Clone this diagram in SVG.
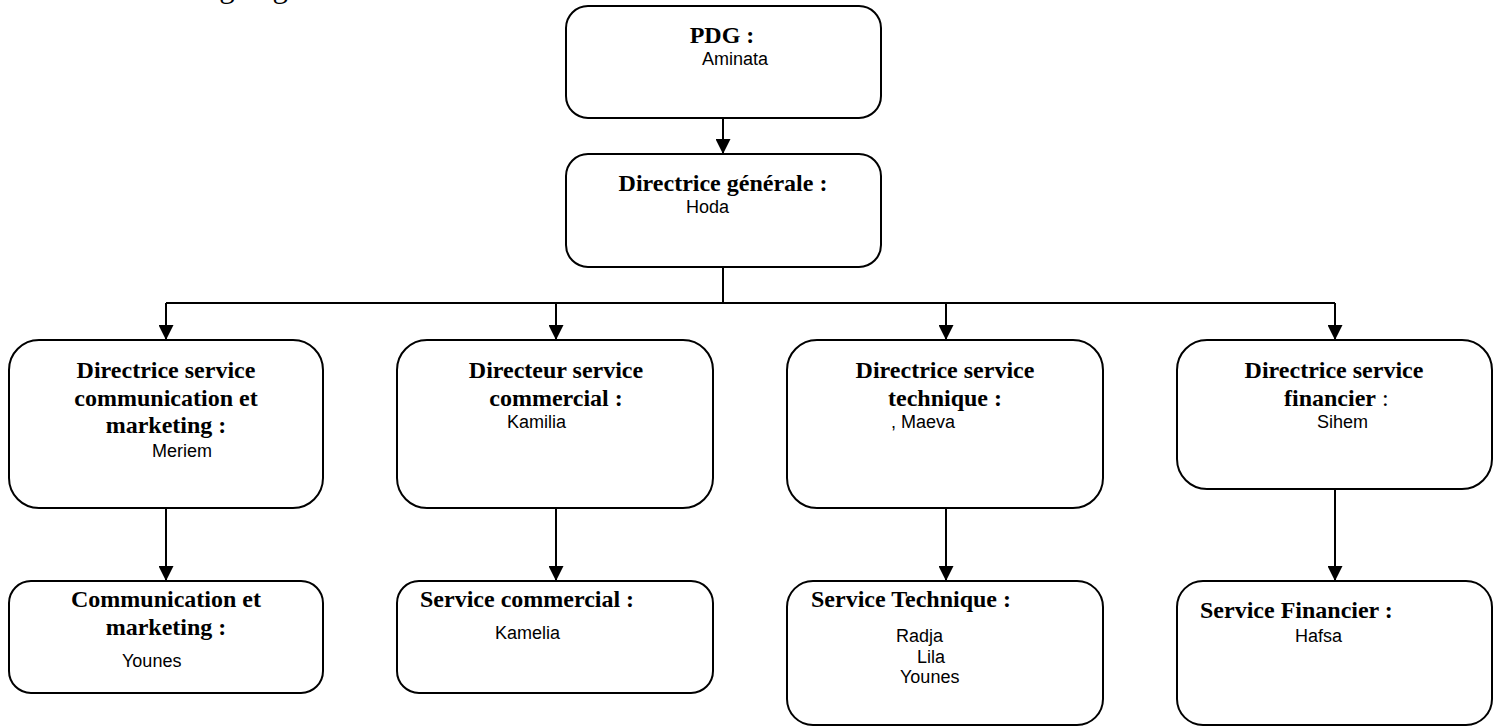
<svg xmlns="http://www.w3.org/2000/svg" width="1501" height="728" viewBox="0 0 1501 728">
<style>
.box{fill:#fff;stroke:#000;stroke-width:2}
.c{fill:none;stroke:#000;stroke-width:2}
.t{font-family:"Liberation Serif","Times New Roman",serif;font-weight:bold;font-size:24px;fill:#000}
.n{font-family:"Liberation Sans",Arial,sans-serif;font-size:18px;fill:#000}
.m{text-anchor:middle}
</style>
<defs>
<marker id="ah" markerUnits="userSpaceOnUse" markerWidth="16" markerHeight="15" refX="15" refY="7.5" orient="auto">
<path d="M0,0 L15,7.5 L0,15 z" fill="#000"/>
</marker>
</defs>
<text x="187" y="-3" style="font-family:'Liberation Serif','Times New Roman',serif;font-size:31px">Organigramme</text>
<g id="connectors">
<path class="c" d="M723,118 V154" marker-end="url(#ah)"/>
<path class="c" d="M723,267 V303"/>
<path class="c" d="M166,303 H1335"/>
<path class="c" d="M166,303 V340" marker-end="url(#ah)"/>
<path class="c" d="M556,303 V340" marker-end="url(#ah)"/>
<path class="c" d="M946,303 V340" marker-end="url(#ah)"/>
<path class="c" d="M1335,303 V340" marker-end="url(#ah)"/>
<path class="c" d="M166,508 V581" marker-end="url(#ah)"/>
<path class="c" d="M556,508 V581" marker-end="url(#ah)"/>
<path class="c" d="M946,508 V581" marker-end="url(#ah)"/>
<path class="c" d="M1335,489 V581" marker-end="url(#ah)"/>
</g>
<g id="pdg">
<rect class="box" x="566" y="6" width="315" height="112" rx="22"/>
<text class="t m" x="722" y="43">PDG :</text>
<text class="n" x="702" y="65">Aminata</text>
</g>
<g id="dg">
<rect class="box" x="566" y="154" width="315" height="113" rx="22"/>
<text class="t m" x="723" y="191">Directrice générale :</text>
<text class="n" x="686" y="213">Hoda</text>
</g>
<g id="dir-comm">
<rect class="box" x="9" y="340" width="314" height="168" rx="30"/>
<text class="t m" x="166" y="378">Directrice service</text>
<text class="t m" x="166" y="406">communication et</text>
<text class="t m" x="166" y="433">marketing :</text>
<text class="n" x="152" y="457">Meriem</text>
</g>
<g id="dir-commercial">
<rect class="box" x="397" y="340" width="316" height="168" rx="30"/>
<text class="t m" x="556" y="378">Directeur service</text>
<text class="t m" x="556" y="406">commercial :</text>
<text class="n" x="507" y="428">Kamilia</text>
</g>
<g id="dir-tech">
<rect class="box" x="787" y="340" width="316" height="168" rx="30"/>
<text class="t m" x="945" y="378">Directrice service</text>
<text class="t m" x="945" y="406">technique :</text>
<text class="n" x="891" y="428">, Maeva</text>
</g>
<g id="dir-fin">
<rect class="box" x="1177" y="340" width="315" height="149" rx="30"/>
<text class="t m" x="1334" y="378">Directrice service</text>
<text class="t" x="1284" y="406">financier<tspan style="font-weight:normal"> :</tspan></text>
<text class="n" x="1317" y="428">Sihem</text>
</g>
<g id="svc-comm">
<rect class="box" x="9" y="581" width="314" height="112" rx="22"/>
<text class="t m" x="166" y="607">Communication et</text>
<text class="t m" x="166" y="635">marketing :</text>
<text class="n" x="122" y="667">Younes</text>
</g>
<g id="svc-commercial">
<rect class="box" x="397" y="581" width="316" height="112" rx="22"/>
<text class="t" x="420" y="607">Service commercial :</text>
<text class="n" x="495" y="639">Kamelia</text>
</g>
<g id="svc-tech">
<rect class="box" x="787" y="581" width="316" height="144" rx="26"/>
<text class="t" x="811" y="607">Service Technique :</text>
<text class="n" x="896" y="642">Radja</text>
<text class="n" x="917" y="663">Lila</text>
<text class="n" x="900" y="683">Younes</text>
</g>
<g id="svc-fin">
<rect class="box" x="1177" y="581" width="315" height="144" rx="26"/>
<text class="t" x="1200" y="618">Service Financier :</text>
<text class="n" x="1295" y="642">Hafsa</text>
</g>
</svg>
